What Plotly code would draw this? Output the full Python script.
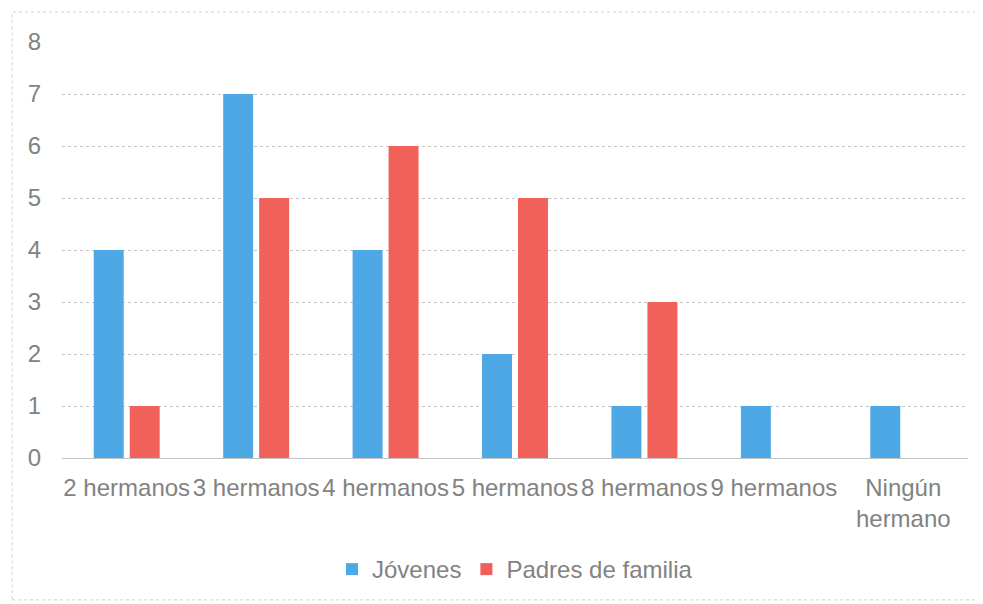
import plotly.graph_objects as go

categorias = ["2 hermanos", "3 hermanos", "4 hermanos", "5 hermanos",
              "8 hermanos", "9 hermanos", "Ningún<br>hermano"]
jovenes = [4, 7, 4, 2, 1, 1, 1]
padres = [1, 5, 6, 5, 3, 0, 0]

fig = go.Figure()
fig.add_trace(go.Bar(x=categorias, y=jovenes, name="Jóvenes",
                     marker=dict(color="#4fa8e6", line=dict(width=0))))
fig.add_trace(go.Bar(x=categorias, y=padres, name="Padres de familia",
                     marker=dict(color="#f2605a", line=dict(width=0))))

fig.update_layout(
    width=983, height=604,
    barmode="group", bargap=0.444, bargroupgap=0.167,
    plot_bgcolor="white", paper_bgcolor="white",
    margin=dict(l=54, r=23, t=34, b=154),
    font=dict(family="Liberation Sans, Arial, sans-serif", size=24, color="#828282"),
    legend=dict(orientation="h", x=0.5, xanchor="center", y=-0.214, yanchor="top",
                font=dict(size=24, color="#828282"), itemwidth=30),
    showlegend=True,
)
fig.update_yaxes(range=[0, 8], dtick=1, showgrid=True, gridcolor="#c4c4c4",
                 griddash="dot", gridwidth=1, zeroline=False, showline=False,
                 ticks="", ticklabelstandoff=20, automargin=False)
fig.update_xaxes(showgrid=False, showline=True, linecolor="#c4c4c4", linewidth=1,
                 ticks="", tickangle=0, ticklabelstandoff=8, automargin=False)

fig.add_shape(type="rect", xref="paper", yref="paper", x0=-0.055, x1=1.03,
              y0=-0.341, y1=1.072, line=dict(color="#d0d0d0", width=1, dash="dot"))

fig.write_html("out.html")
